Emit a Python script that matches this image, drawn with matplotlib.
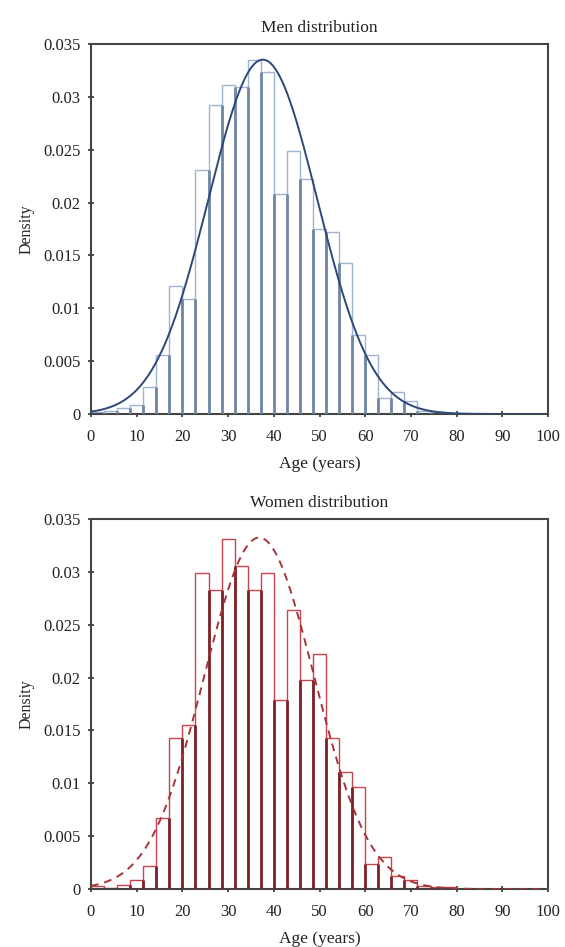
import numpy as np
import matplotlib.pyplot as plt
from matplotlib.ticker import FuncFormatter

# bin edges: 35 bins of equal width over 0-100 years
bin_width = 100 / 35
n_bins = 35

men_density = [0.0002, 0.0003, 0.0006, 0.0009, 0.0026, 0.0056, 0.0121, 0.0109,
               0.0231, 0.0292, 0.0311, 0.0309, 0.0335, 0.0324, 0.0208, 0.0249,
               0.0222, 0.0175, 0.0172, 0.0143, 0.0075, 0.0056, 0.0015, 0.0021,
               0.0012, 0.0003, 0.0002, 0.0001, 0, 0, 0, 0, 0, 0, 0]

women_density = [0.0003, 0.0001, 0.0004, 0.0009, 0.0022, 0.0067, 0.0143, 0.0155,
                 0.0299, 0.0283, 0.0331, 0.0306, 0.0283, 0.0299, 0.0179, 0.0264,
                 0.0198, 0.0222, 0.0143, 0.0111, 0.0097, 0.0024, 0.0030, 0.0012,
                 0.0009, 0.0003, 0.0002, 0.0002, 0, 0, 0, 0, 0, 0, 0]

# fitted normal curves (mean, sd)
men_fit = (37.6, 11.9)
women_fit = (36.8, 12.0)

x_ticks = list(range(0, 101, 10))
y_ticks = [0, 0.005, 0.01, 0.015, 0.02, 0.025, 0.03, 0.035]

plt.rcParams['font.family'] = ['Liberation Serif', 'DejaVu Serif']


def normal_pdf(x, mu, sd):
    return np.exp(-0.5 * ((x - mu) / sd) ** 2) / (sd * np.sqrt(2 * np.pi))


def draw_panel(ax, density, fit, title, edge, strip, curve, ls):
    left = np.arange(n_bins) * bin_width
    dens = np.array(density)
    ax.bar(left, dens, width=bin_width, align='edge', color='white',
           edgecolor=edge, linewidth=1.0, zorder=2)
    # darker shared edges between neighbouring bars
    inner = left[1:]
    hts = np.minimum(dens[:-1], dens[1:])
    ax.vlines(inner, 0, hts, colors=strip, linewidth=2.0, zorder=3)
    xs = np.linspace(0, 100, 400)
    ax.plot(xs, normal_pdf(xs, *fit), color=curve, linestyle=ls,
            linewidth=1.4, zorder=4)

    ax.set_xlim(0, 100)
    ax.set_ylim(0, 0.035)
    ax.set_xticks(x_ticks)
    ax.set_yticks(y_ticks)
    ax.yaxis.set_major_formatter(FuncFormatter(lambda v, p: ('%g' % round(v, 4))))
    ax.tick_params(direction='inout', length=5, width=1.2, colors='#333333',
                   labelsize=12, labelcolor='#222222')
    ax.tick_params(axis='x', pad=8)
    ax.tick_params(axis='y', pad=5)
    for s in ax.spines.values():
        s.set_color('#444444')
        s.set_linewidth(1.5)
    ax.set_title(title, fontsize=12.5, pad=9, color='#222222')
    ax.set_xlabel('Age (years)', fontsize=12.5, labelpad=8, color='#222222')
    ax.set_ylabel('Density', fontsize=11.5, labelpad=6, color='#222222')


fig = plt.figure(figsize=(5.65, 9.47), dpi=100)
ax1 = fig.add_axes([0.161, 0.5628, 0.809, 0.3907])
ax2 = fig.add_axes([0.161, 0.0612, 0.809, 0.3907])

draw_panel(ax1, men_density, men_fit, 'Men distribution',
           '#9fb4d0', '#6f86a6', '#2d4878', '-')
draw_panel(ax2, women_density, women_fit, 'Women distribution',
           '#c9444c', '#7d2327', '#a8343a', (0, (4, 3)))

fig.savefig('out.png', dpi=100)
